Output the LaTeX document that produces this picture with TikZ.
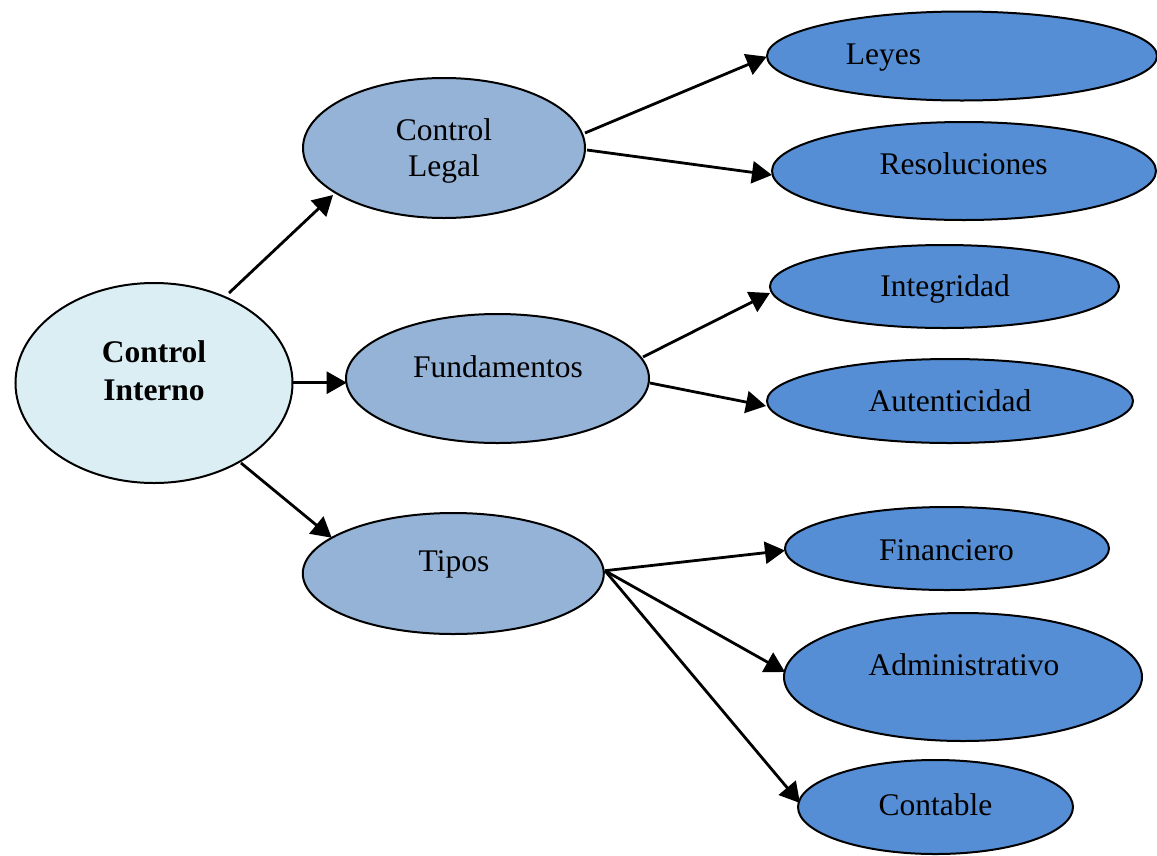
\documentclass[tikz,border=0pt]{standalone}
\usepackage{fontspec}
\setmainfont{Liberation Serif}
\usetikzlibrary{shapes.geometric,arrows.meta,calc}
\definecolor{rootfill}{HTML}{DBEEF3}
\definecolor{midfill}{HTML}{95B3D7}
\definecolor{leaffill}{HTML}{558ED5}
\tikzset{
  oval/.style={ellipse, draw=black, line width=2pt, inner sep=0pt, outer sep=0pt},
  rootoval/.style={oval, fill=rootfill},
  midoval/.style={oval, fill=midfill},
  leafoval/.style={oval, fill=leaffill},
  lbl/.style={anchor=base, align=center, inner sep=0pt, font=\fontsize{31.5}{37}\selectfont},
  conn/.style={line width=2.8pt, -{Triangle[length=20pt,width=22pt]}}
}
\begin{document}
\begin{tikzpicture}[x=1pt,y=-1pt]
\useasboundingbox (0,0) rectangle (1157,855);
% ellipses
\node[rootoval, minimum width=277pt, minimum height=200pt] (ci) at (154,383) {};
\node[midoval, minimum width=282pt, minimum height=140pt] (cl) at (444,148) {};
\node[midoval, minimum width=303pt, minimum height=129pt] (fu) at (497.5,378.5) {};
\node[midoval, minimum width=301pt, minimum height=121pt] (ti) at (453.3,573.5) {};
\node[leafoval, minimum width=390pt, minimum height=89pt] (le) at (962,56) {};
\node[leafoval, minimum width=384pt, minimum height=98pt] (re) at (964,171) {};
\node[leafoval, minimum width=349pt, minimum height=83pt] (in) at (944.5,286.5) {};
\node[leafoval, minimum width=366pt, minimum height=84pt] (au) at (950,401) {};
\node[leafoval, minimum width=324pt, minimum height=83pt] (fi) at (947,548.5) {};
\node[leafoval, minimum width=358pt, minimum height=128pt] (ad) at (963,677) {};
\node[leafoval, minimum width=275pt, minimum height=94pt] (co) at (935.5,807) {};
% texts
\node[lbl, font=\fontsize{31.5}{37.3}\selectfont\bfseries] (ci-t) at (154,400) {Control\\Interno};
\node[lbl, font=\fontsize{31.5}{36}\selectfont] (cl-t) at (444,176) {Control\\Legal};
\node[lbl] (fu-t) at (498,377) {Fundamentos};
\node[lbl] (ti-t) at (454,571.7) {Tipos};
\node[lbl] (le-t) at (883.5,64) {Leyes};
\node[lbl] (re-t) at (963.5,174.3) {Resoluciones};
\node[lbl] (in-t) at (945,296.7) {Integridad};
\node[lbl] (au-t) at (950,411) {Autenticidad};
\node[lbl] (fi-t) at (946.5,560) {Financiero};
\node[lbl] (ad-t) at (964,675) {Administrativo};
\node[lbl] (co-t) at (935.5,815) {Contable};
% connectors
\draw[conn] ($(ci)+(75,-90)$) -- ($(cl)+(-111,47)$);
\draw[conn] ($(ci)+(138.7,-0.3)$) -- ($(fu)+(-150.8,4.2)$);
\draw[conn] ($(ci)+(87,80)$) -- ($(ti)+(-121.6,-35.8)$);
\draw[conn] ($(cl)+(141,-15)$) -- ($(le)+(-195.3,0.7)$);
\draw[conn] ($(cl)+(143,2)$) -- ($(re)+(-192,4)$);
\draw[conn] ($(fu)+(145.5,-21.5)$) -- ($(in)+(-174.5,6.5)$);
\draw[conn] ($(fu)+(152.5,4.5)$) -- ($(au)+(-184,5)$);
\draw[conn] ($(ti)+(151.7,-2.8)$) -- ($(fi)+(-162,2)$);
\draw[conn] ($(ti)+(151.7,-2.8)$) -- ($(ad)+(-178,-5)$);
\draw[conn] ($(ti)+(151.7,-2.8)$) -- ($(co)+(-135.5,-4)$);
\end{tikzpicture}
\end{document}
